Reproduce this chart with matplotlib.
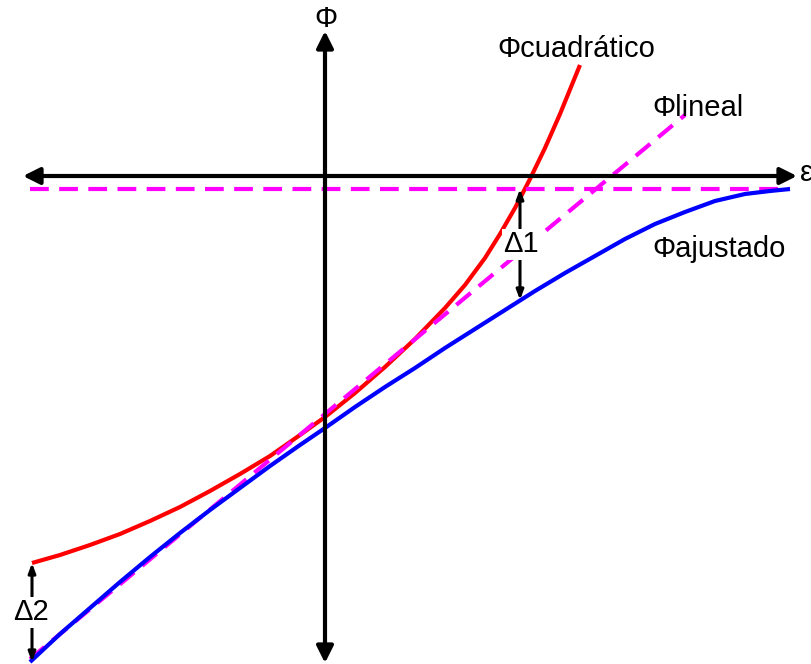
import matplotlib.pyplot as plt

# Curva ajustada (epsilon, Phi)
eps_ajust = [-2.95, -2.65, -2.35, -2.05, -1.75, -1.45, -1.15, -0.85, -0.55, -0.25,
             0.00, 0.30, 0.60, 0.90, 1.20, 1.50, 1.80, 2.10, 2.40, 2.70,
             3.00, 3.30, 3.60, 3.90, 4.20, 4.45, 4.65]
phi_ajust = [-4.86, -4.58, -4.32, -4.06, -3.81, -3.57, -3.34, -3.12, -2.90, -2.69,
             -2.52, -2.31, -2.11, -1.92, -1.72, -1.53, -1.34, -1.15, -0.97, -0.80,
             -0.63, -0.48, -0.36, -0.25, -0.18, -0.15, -0.13]

# Aproximacion cuadratica
eps_cuad = [-2.93, -2.65, -2.35, -2.05, -1.75, -1.45, -1.15, -0.85, -0.55, -0.25,
            0.00, 0.30, 0.60, 0.90, 1.20, 1.40, 1.60, 1.75, 1.90, 2.05,
            2.20, 2.35, 2.55]
phi_cuad = [-3.87, -3.79, -3.69, -3.58, -3.45, -3.31, -3.15, -2.98, -2.80, -2.59,
            -2.41, -2.17, -1.91, -1.63, -1.32, -1.09, -0.82, -0.58, -0.32, -0.03,
            0.28, 0.62, 1.11]

# Aproximacion lineal
eps_lin = [-2.95, 3.60]
phi_lin = [-4.83, 0.61]

# Valor maximo de la curva ajustada
phi_max = -0.13
eps_max_rango = [-2.95, 4.65]

# Errores Delta1 y Delta2
delta1_eps = 1.95
delta1_phi = [-0.13, -1.24]
delta2_eps = -2.93
delta2_phi = [-3.87, -4.86]

fig = plt.figure(figsize=(8.11, 6.64), dpi=100)
ax = fig.add_axes([0, 0, 1, 1])
ax.set_xlim(-3.25, 4.86)
ax.set_ylim(-4.88, 1.76)
ax.axis("off")

lw = 3
ax.plot(eps_cuad, phi_cuad, color="#ff0000", linewidth=lw, zorder=2,
        solid_capstyle="butt", solid_joinstyle="round")
ax.plot(eps_lin, phi_lin, color="#ff00ff", linewidth=lw, dashes=(4.5, 2.5), zorder=3)
ax.plot(eps_max_rango, [phi_max, phi_max], color="#ff00ff", linewidth=lw,
        dashes=(4.5, 2.5), zorder=3)
ax.plot(eps_ajust, phi_ajust, color="#0000ff", linewidth=lw, zorder=4,
        solid_capstyle="butt", solid_joinstyle="round")

# Ejes con flechas en ambos extremos
eje = dict(arrowstyle="<|-|>,head_length=0.5,head_width=0.25", color="black",
           linewidth=lw, mutation_scale=20, shrinkA=0, shrinkB=0)
ax.annotate("", xy=(4.72, 0), xytext=(-3.02, 0), arrowprops=eje, zorder=5)
ax.annotate("", xy=(0, 1.45), xytext=(0, -4.87), arrowprops=eje, zorder=5)

# Flechas de los errores
flecha = dict(arrowstyle="<|-|>,head_length=0.4,head_width=0.15", color="black",
              linewidth=2.2, mutation_scale=14, shrinkA=0, shrinkB=0)
ax.annotate("", xy=(delta1_eps, delta1_phi[0]), xytext=(delta1_eps, delta1_phi[1]),
            arrowprops=flecha, zorder=5)
ax.annotate("", xy=(delta2_eps, delta2_phi[0]), xytext=(delta2_eps, delta2_phi[1]),
            arrowprops=flecha, zorder=5)

fuente = dict(family=["Liberation Sans", "DejaVu Sans"], fontsize=21)
caja = dict(facecolor="white", edgecolor="none", pad=1)
ax.text(delta1_eps + 0.01, (delta1_phi[0] + delta1_phi[1]) / 2, "Δ1",
        ha="center", va="center", bbox=caja, zorder=6, **fuente)
ax.text(delta2_eps - 0.01, (delta2_phi[0] + delta2_phi[1]) / 2, "Δ2",
        ha="center", va="center", bbox=caja, zorder=6, **fuente)

ax.text(1.72, 1.19, "Φcuadrático", ha="left", va="baseline", **fuente)
ax.text(3.27, 0.60, "Φlineal", ha="left", va="baseline", **fuente)
ax.text(3.27, -0.81, "Φajustado", ha="left", va="baseline", **fuente)
ax.text(0.01, 1.49, "Φ", ha="center", va="baseline", **fuente)
ax.text(4.75, -0.05, "ε", ha="left", va="baseline", **fuente)

plt.savefig("out.png", dpi=100)
